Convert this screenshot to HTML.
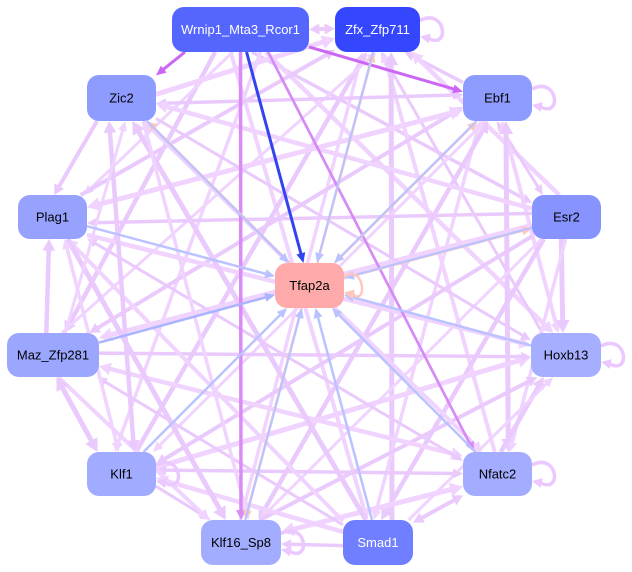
<!DOCTYPE html>
<html><head><meta charset="utf-8">
<style>
html,body{margin:0;padding:0;background:#fff;}
svg{display:block;}
text{font-family:"Liberation Sans",Arial,sans-serif;font-size:13px;text-anchor:middle;dominant-baseline:central;}
</style></head>
<body>
<svg id="g" width="632" height="572" viewBox="0 0 632 572" xmlns="http://www.w3.org/2000/svg">
<rect width="632" height="572" fill="#fff"/>
<g id="edges"></g>
<g id="nodes">
<rect x="172" y="7" width="137" height="45" rx="12" fill="#5566ff"/>
<text x="240.5" y="29.5" fill="#fff">Wrnip1_Mta3_Rcor1</text>
<rect x="335" y="7" width="85" height="45" rx="12" fill="#3447ff"/>
<text x="377.5" y="29.5" fill="#fff">Zfx_Zfp711</text>
<rect x="87" y="75" width="69" height="46" rx="12" fill="#8f9cff"/>
<text x="121.5" y="98" fill="#000">Zic2</text>
<rect x="463" y="75" width="69" height="46" rx="12" fill="#8f9cff"/>
<text x="497.5" y="98" fill="#000">Ebf1</text>
<rect x="18" y="195" width="69" height="44" rx="12" fill="#97a2ff"/>
<text x="52.5" y="217" fill="#000">Plag1</text>
<rect x="532" y="195" width="69" height="44" rx="12" fill="#8793ff"/>
<text x="566.5" y="217" fill="#000">Esr2</text>
<rect x="275" y="263" width="69" height="45" rx="12" fill="#ffaaaa"/>
<text x="309.5" y="285.5" fill="#000">Tfap2a</text>
<rect x="7" y="333" width="92" height="44" rx="12" fill="#9ba6ff"/>
<text x="53" y="355" fill="#000">Maz_Zfp281</text>
<rect x="531" y="333" width="70" height="44" rx="12" fill="#a5aeff"/>
<text x="566" y="355" fill="#000">Hoxb13</text>
<rect x="87" y="452" width="69" height="44" rx="12" fill="#a1abff"/>
<text x="121.5" y="474" fill="#000">Klf1</text>
<rect x="463" y="452" width="69" height="44" rx="12" fill="#a3acff"/>
<text x="497.5" y="474" fill="#000">Nfatc2</text>
<rect x="201" y="520" width="80" height="45" rx="12" fill="#a3adff"/>
<text x="241" y="542.5" fill="#000">Klf16_Sp8</text>
<rect x="343" y="520" width="70" height="45" rx="12" fill="#6f7fff"/>
<text x="378" y="542.5" fill="#fff">Smad1</text>
</g>
</svg>
<script>
(function(){
var R={W:[172,7,309,52],Z:[335,7,420,52],Zi:[87,75,156,121],E:[463,75,532,121],P:[18,195,87,239],Es:[532,195,601,239],T:[275,263,344,308],M:[7,333,99,377],H:[531,333,601,377],K1:[87,452,156,496],N:[463,452,532,496],K16:[201,520,281,565],S:[343,520,413,565]};
function c(k){var r=R[k];return [(r[0]+r[2])/2,(r[1]+r[3])/2,(r[2]-r[0])/2,(r[3]-r[1])/2];}
function ex(k,sx,sy,dx,dy){var r=R[k];var tx=dx>0?(r[2]-sx)/dx:(dx<0?(r[0]-sx)/dx:1e9);var ty=dy>0?(r[3]-sy)/dy:(dy<0?(r[1]-sy)/dy:1e9);var t=Math.min(tx,ty);return [sx+dx*t,sy+dy*t];}
var out='';
function head(t,dx,dy,al,aw,col){var bx=t[0]-dx*al,by=t[1]-dy*al;return '<polygon points="'+t[0]+','+t[1]+' '+(bx-dy*aw)+','+(by+dx*aw)+' '+(bx+dy*aw)+','+(by-dx*aw)+'" fill="'+col+'"/>';}
function edge(a,b,col,w,dir,off,ja,jb){
 var A=c(a),B=c(b);ja=ja||[0,0];jb=jb||[0,0];
 var sx=A[0]+ja[0],sy=A[1]+ja[1],tx=B[0]+jb[0],ty=B[1]+jb[1];
 var dx=tx-sx,dy=ty-sy;var L=Math.hypot(dx,dy);dx/=L;dy/=L;
 off=off||0;var nx=-dy*off,ny=dx*off;
 var p=ex(a,sx+nx,sy+ny,dx,dy),q=ex(b,tx+nx,ty+ny,-dx,-dy);
 var al=Math.max(10,w*2.6),aw=Math.max(4.5,w*1.4);
 var s=p.slice(),e=q.slice(),h='';
 if(dir==='f'||dir==='b'){e=[q[0]-dx*al*0.8,q[1]-dy*al*0.8];h+=head(q,dx,dy,al,aw,col);}
 if(dir==='r'||dir==='b'){s=[p[0]+dx*al*0.8,p[1]+dy*al*0.8];h+=head(p,-dx,-dy,al,aw,col);}
 out+='<line x1="'+s[0]+'" y1="'+s[1]+'" x2="'+e[0]+'" y2="'+e[1]+'" stroke="'+col+'" stroke-width="'+w+'"/>'+h;
}
function loop(k,col,w,sz){
 var r=R[k];var x0=r[2],cy=(r[1]+r[3])/2;sz=sz||26;
 out+='<path d="M'+x0+','+(cy-9)+' C'+(x0+sz)+','+(cy-22)+' '+(x0+sz+4)+','+(cy+20)+' '+(x0+9)+','+(cy+9)+'" fill="none" stroke="'+col+'" stroke-width="'+w+'"/>';
 out+=head([x0,cy+7],-0.97,-0.2,10,5,col);
}
var O=['W','Z','E','Es','H','N','S','K16','K1','M','P','Zi'];
var special={'W-Zi':1,'W-E':1,'W-K16':1,'W-N':1};
var dirs=['f','r','b'],ws=[3,4,5,3.5,4.5];
function jit(k,n){var a=c(k);var v=((n*37)%11-5)/5;return [v*a[2]*0.4,((n*53)%7-3)/3*a[3]*0.3];}
var n=0;
for(var i=0;i<O.length;i++)for(var j=i+1;j<O.length;j++){
 var key=O[i]+'-'+O[j];n++;if(special[key])continue;
 var d=dirs[(i*7+j*3)%3];
 if(key==='W-Z')d='b';
 var col=((i+j)%2===0)?'#f0d4ff':'#eacafd';
 edge(O[i],O[j],col,ws[(i+j)%5],d,0,jit(O[i],n),jit(O[j],n+3));
}
// special purple edges
edge('W','K16','#d98cf5',3.5,'f',0);
edge('W','N','#d68af5',2.7,'f',0,[16,0],[-12,0]);
edge('W','Zi','#cc66f5',3,'f',0,[-40,10],[25,-15]);
edge('W','E','#cc66f5',3,'f',0,[60,15],[-30,-5]);
// Tfap2a edges
var blu='#bac3ff',sal='#ffc6bc';
['Zi','E','Es','Z','K16'].forEach(function(k){edge('T',k,sal,2.2,'f',2);});
['P','K1','S','N','H'].forEach(function(k){edge(k,'T',blu,2.5,'f',0);});
edge('M','T','#a9b4ff',2.5,'f',0);
['Zi','E','Es','Z','K16'].forEach(function(k){edge(k,'T',blu,2.2,'f',-1.5);});
edge('W','T','#3344ee',3,'f',0);
// self loops
loop('Z','#ebc8ff',3.5);loop('E','#ebc8ff',3.5);loop('H','#ebc8ff',3.5);loop('N','#ebc8ff',3.5);
loop('K1','#ebc8ff',3.5);loop('K16','#ebc8ff',3.5);loop('T','#ffc7bd',2.5,20);
document.getElementById('edges').innerHTML=out;
})();
</script>
</body></html>
